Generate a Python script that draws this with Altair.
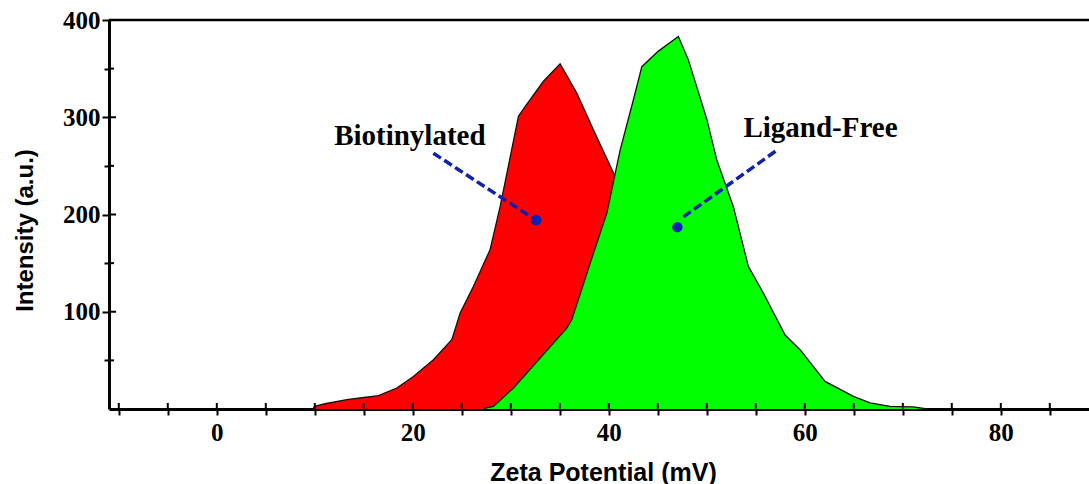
import altair as alt
import pandas as pd

# ---- data ----
BIO_X = [9.8, 10.0, 11.05, 13.27, 14.62, 16.49, 18.37, 20.06, 22.10, 23.98, 24.83, 26.18,
         27.89, 28.91, 30.78, 31.46, 31.97, 33.33, 35.03, 36.73, 38.43, 40.47,
         42.0, 44.0, 46.0, 48.0, 50.0, 52.0, 54.0, 55.0]
BIO_Y = [0, 2.7, 5.4, 9.6, 11.3, 13.7, 21.6, 33.5, 50.7, 71.3, 98.7, 126,
         164, 208, 301, 311, 318, 337, 355, 325, 287, 243,
         205, 160, 110, 65, 30, 10, 2, 0]

FREE_X = [27.3, 27.4, 28.22, 30.27, 35.71, 36.22, 38.43, 39.80, 41.15, 42.51, 43.37, 45.06,
          47.10, 48.12, 50.0, 51.02, 52.71, 54.24, 55.78, 57.99, 59.52, 62.07, 64.96,
          66.66, 68.70, 71.05, 72.5]
FREE_Y = [0, 0.8, 2.7, 21.6, 83.3, 91.8, 160, 201.5, 266, 318, 352, 368,
          383, 359, 298, 256, 208, 146.6, 119, 76, 61, 28.4, 13,
          6.2, 2.7, 2.1, 0]

LABELS = ["Biotinylated", "Ligand-Free"]
LABEL_X = [19.7, 61.6]
LABEL_Y = [271, 280]
LEAD_X1 = [22.1, 57.0]
LEAD_Y1 = [263, 265]
LEAD_X2 = [32.6, 47.4]
LEAD_Y2 = [194, 196]
DOT_X = [32.6, 47.0]
DOT_Y = [194, 187]

X_TICKS = list(range(-10, 90, 5))
Y_MAJOR = [100, 200, 300, 400]
Y_MINOR = [50, 150, 250, 350]
X_DOMAIN = [-11, 89]
Y_DOMAIN = [0, 400]

W, H = 980, 389

bio = pd.DataFrame({"x": BIO_X, "y": BIO_Y})
free = pd.DataFrame({"x": FREE_X, "y": FREE_Y})
ann = pd.DataFrame({"label": LABELS, "lx": LABEL_X, "ly": LABEL_Y,
                    "x1": LEAD_X1, "y1": LEAD_Y1, "x2": LEAD_X2, "y2": LEAD_Y2,
                    "dx": DOT_X, "dy": DOT_Y})

xs = alt.Scale(domain=X_DOMAIN, nice=False, zero=False)
ys = alt.Scale(domain=Y_DOMAIN, nice=False, zero=False)

x_axis = alt.Axis(
    title="Zeta Potential (mV)", values=X_TICKS,
    labelExpr="datum.value % 20 === 0 ? datum.value : ''",
    labelFont="Liberation Serif", labelFontWeight="bold", labelFontSize=25,
    labelColor="black", labelPadding=5, labelFlush=False,
    tickSize=6, tickWidth=2, tickColor="black",
    domainColor="black", domainWidth=3, grid=False,
    titleFont="Liberation Sans", titleFontWeight="bold", titleFontSize=25,
    titleColor="black", titleX=494, titleY=71, titleBaseline="alphabetic",
    titleAlign="center",
)
y_axis = alt.Axis(
    title="Intensity (a.u.)", values=Y_MINOR + Y_MAJOR,
    labelExpr="datum.value % 100 === 0 ? datum.value : ''",
    labelFont="Liberation Serif", labelFontWeight="bold", labelFontSize=25,
    labelColor="black", labelPadding=2, labelFlush=False,
    tickSize={"condition": {"test": "datum.value % 100 === 0", "value": 7}, "value": 5},
    tickWidth=2, tickColor="black",
    domainColor="black", domainWidth=3, grid=False,
    titleFont="Liberation Sans", titleFontWeight="bold", titleFontSize=24,
    titleColor="black", titleX=-84, titleY=210, titleBaseline="middle",
    titleAlign="center", titleAngle=-90,
)

red = alt.Chart(bio).mark_area(
    color="#ff0000", opacity=1, line={"color": "#111111", "strokeWidth": 1.3}
).encode(
    x=alt.X("x:Q", scale=xs, axis=x_axis),
    y=alt.Y("y:Q", scale=ys, axis=y_axis, stack=None),
)
green = alt.Chart(free).mark_area(
    color="#00ff00", opacity=1, line={"color": "#111111", "strokeWidth": 1.3}
).encode(
    x=alt.X("x:Q", scale=xs),
    y=alt.Y("y:Q", scale=ys, stack=None),
)

top_line = alt.Chart(pd.DataFrame({"v": [Y_DOMAIN[1]]})).mark_rule(
    color="black", strokeWidth=2.5
).encode(y=alt.Y("v:Q", scale=ys), x=alt.value(0), x2=alt.value(W))

x_inner = alt.Chart(pd.DataFrame({"t": X_TICKS})).mark_rule(
    color="black", strokeWidth=2
).encode(x=alt.X("t:Q", scale=xs), y=alt.value(H - 6), y2=alt.value(H))

y_inner_major = alt.Chart(pd.DataFrame({"t": Y_MAJOR})).mark_rule(
    color="black", strokeWidth=2
).encode(y=alt.Y("t:Q", scale=ys), x=alt.value(0), x2=alt.value(7))
y_inner_minor = alt.Chart(pd.DataFrame({"t": Y_MINOR})).mark_rule(
    color="black", strokeWidth=2
).encode(y=alt.Y("t:Q", scale=ys), x=alt.value(0), x2=alt.value(5))

leads = alt.Chart(ann).mark_rule(
    color="#1020a8", strokeWidth=3.5, strokeDash=[9, 4]
).encode(
    x=alt.X("x1:Q", scale=xs), y=alt.Y("y1:Q", scale=ys),
    x2="x2:Q", y2="y2:Q",
)
dots = alt.Chart(ann).mark_circle(color="#0a22b8", opacity=1, size=110).encode(
    x=alt.X("dx:Q", scale=xs), y=alt.Y("dy:Q", scale=ys)
)
texts = alt.Chart(ann).mark_text(
    font="Liberation Serif", fontWeight="bold", fontSize=29, color="black",
    align="center", baseline="alphabetic"
).encode(
    x=alt.X("lx:Q", scale=xs), y=alt.Y("ly:Q", scale=ys), text="label:N"
)

chart = alt.layer(
    red, green, top_line, x_inner, y_inner_major, y_inner_minor, leads, dots, texts
).properties(
    width=W, height=H,
    autosize=alt.AutoSizeParams(type="none"),
    padding={"left": 109, "top": 20, "right": 0, "bottom": 75},
    background="white",
).configure_view(stroke=None)

chart.save("out.html", embed_options={"renderer": "svg", "actions": False})
